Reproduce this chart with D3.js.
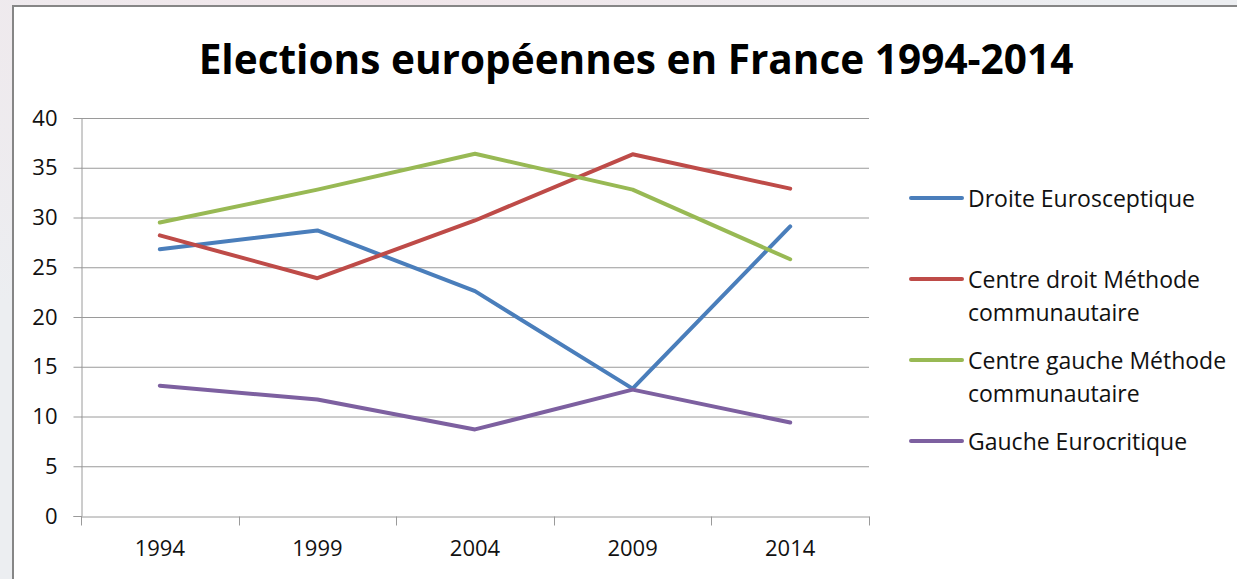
<!DOCTYPE html>
<html><head><meta charset="utf-8">
<script src="https://cdn.jsdelivr.net/npm/d3@7"></script>
<style>
html,body{margin:0;padding:0;background:#eceef1;overflow:hidden}
svg{display:block}
</style></head>
<body>
<svg id="c" width="1237" height="579"></svg>
<script>
const title = "Elections européennes en France 1994-2014";
const years = ["1994","1999","2004","2009","2014"];
const yTicks = [0,5,10,15,20,25,30,35,40];
const seriesNames = [
  ["Droite Eurosceptique"],
  ["Centre droit Méthode","communautaire"],
  ["Centre gauche Méthode","communautaire"],
  ["Gauche Eurocritique"]
];
const droiteEurosceptique = [26.8, 28.7, 22.6, 12.8, 29.1];
const centreDroit = [28.2, 23.9, 29.7, 36.35, 32.9];
const centreGauche = [29.5, 32.8, 36.4, 32.8, 25.8];
const gaucheEurocritique = [13.1, 11.7, 8.7, 12.7, 9.4];
const colors = ["#4a7ebb","#be4b48","#98b954","#7d60a0"];

const series = [droiteEurosceptique, centreDroit, centreGauche, gaucheEurocritique];

const svg = d3.select("#c");
const defs = svg.append("defs");
const g0 = defs.append("radialGradient").attr("id","bg").attr("cx","0.3").attr("cy","0").attr("r","0.6");
g0.append("stop").attr("offset","0").attr("stop-color","#f1e6ea");
g0.append("stop").attr("offset","1").attr("stop-color","#eceef1");
svg.append("rect").attr("width",1237).attr("height",579).attr("fill","url(#bg)");
svg.append("rect").attr("x",13).attr("y",6).attr("width",1240).attr("height",590)
  .attr("fill","#fff").attr("stroke","#868686").attr("stroke-width",2);

const font = "'Open Sans', Lato, sans-serif";
function fit(sel, target){
  const fs = +sel.attr("font-size");
  const w = sel.node().getComputedTextLength();
  if (w > 0) sel.attr("font-size", fs*target/w);
}
const t = svg.append("text").attr("x",636).attr("y",74).attr("text-anchor","middle")
  .attr("font-family",font).attr("font-weight","bold").attr("font-size",38)
  .attr("fill","#000").text(title);
fit(t, 875);

const x = d3.scaleBand().domain(years).range([81,869]);
const y = d3.scaleLinear().domain([0,40]).range([516,118]);

svg.append("g").selectAll("line").data(yTicks.filter(d=>d>0)).join("line")
  .attr("x1",81).attr("x2",869).attr("y1",d=>y(d)+0.5).attr("y2",d=>y(d)+0.5)
  .attr("stroke","#9a9a9a").attr("stroke-width",1);

const yAxis = svg.append("g").attr("transform","translate(81.5,0)")
  .call(d3.axisLeft(y).tickValues(yTicks).tickSize(8).tickPadding(16).tickFormat(d3.format("d")));
yAxis.select(".domain").attr("stroke","#9a9a9a");
yAxis.selectAll(".tick line").attr("stroke","#9a9a9a");
yAxis.selectAll("text").attr("font-family",font).attr("font-size",22).attr("fill","#111");

const xAxis = svg.append("g").attr("transform","translate(0,516.5)")
  .call(d3.axisBottom(x).tickSize(0).tickPadding(24));
xAxis.select(".domain").attr("stroke","#9a9a9a");
xAxis.selectAll("text").attr("font-family",font).attr("font-size",22).attr("fill","#111");
const bounds = years.map(d=>x(d)).concat([x(years[years.length-1])+x.bandwidth()]);
xAxis.selectAll(".bt").data(bounds).join("line").attr("class","bt")
  .attr("x1",d=>Math.round(d)+0.5).attr("x2",d=>Math.round(d)+0.5).attr("y1",0).attr("y2",9)
  .attr("stroke","#9a9a9a");

const line = d3.line().x((d,i)=>x(years[i])+x.bandwidth()/2).y(d=>y(d));
svg.append("g").selectAll("path").data(series).join("path")
  .attr("d",line).attr("fill","none").attr("stroke",(d,i)=>colors[i])
  .attr("stroke-width",4).attr("stroke-linecap","round").attr("stroke-linejoin","round");

const legY = [198, 279, 360, 441];
const leg = svg.append("g");
seriesNames.forEach((names,i)=>{
  leg.append("line").attr("x1",911).attr("x2",962).attr("y1",legY[i]).attr("y2",legY[i])
    .attr("stroke",colors[i]).attr("stroke-width",4).attr("stroke-linecap","round");
  names.forEach((tx,j)=>{
    leg.append("text").attr("x",968).attr("y",legY[i]+8.5+j*33)
      .attr("font-family",font).attr("font-size",23).attr("fill","#111").text(tx);
  });
});
</script>
</body></html>
